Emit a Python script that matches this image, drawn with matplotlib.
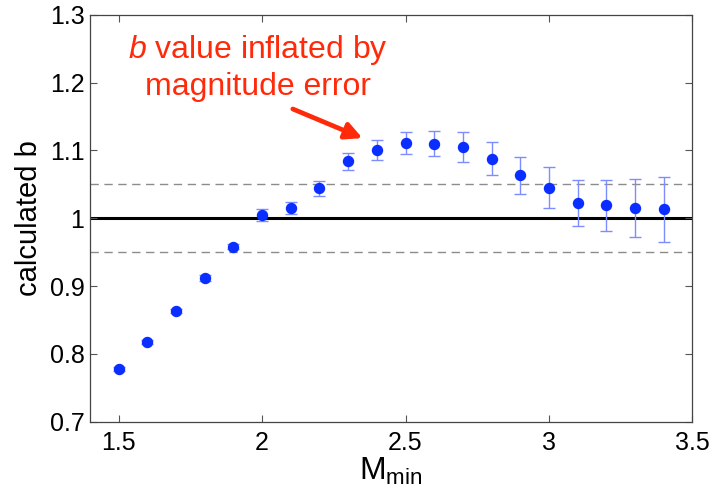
import numpy as np
import matplotlib
matplotlib.use('Agg')
import matplotlib.pyplot as plt

plt.rcParams['font.family'] = ['Liberation Sans', 'DejaVu Sans']
plt.rcParams['mathtext.fontset'] = 'custom'
plt.rcParams['mathtext.rm'] = 'Liberation Sans'
plt.rcParams['mathtext.it'] = 'Liberation Sans:italic'

# b estimate for each minimum magnitude cutoff
m_min = [1.5, 1.6, 1.7, 1.8, 1.9, 2.0, 2.1, 2.2, 2.3, 2.4, 2.5, 2.6,
         2.7, 2.8, 2.9, 3.0, 3.1, 3.2, 3.3, 3.4]
b_calc = [0.777, 0.817, 0.863, 0.912, 0.958, 1.005, 1.015, 1.044, 1.084,
          1.100, 1.111, 1.110, 1.105, 1.088, 1.063, 1.045, 1.023, 1.019,
          1.015, 1.013]
b_err = [0.003, 0.003, 0.003, 0.004, 0.004, 0.0085, 0.009, 0.011, 0.0125,
         0.0147, 0.0167, 0.019, 0.022, 0.0243, 0.0273, 0.030, 0.034,
         0.038, 0.0423, 0.0474]

b_true = 1.0
b_band = [0.95, 1.05]

fig = plt.figure(figsize=(7.15, 4.9), dpi=100)
ax = fig.add_axes([0.1259, 0.1394, 0.8424, 0.8306])

ax.axhline(b_true, color='black', lw=2.2, zorder=1)
for yb in b_band:
    ax.axhline(yb, color='#8c8c8c', lw=1.0, ls=(0, (6, 4)), zorder=1)

ax.errorbar(m_min, b_calc, yerr=b_err, fmt='none', ecolor='#7d8dff',
            elinewidth=1.0, capsize=4, capthick=1.0, zorder=2)
ax.plot(m_min, b_calc, 'o', color='#0a2eff', markersize=7.2, zorder=3)

ax.set_xlim(1.4, 3.5)
ax.set_ylim(0.7, 1.3)
ax.set_xticks([1.5, 2, 2.5, 3, 3.5])
ax.set_xticklabels(['1.5', '2', '2.5', '3', '3.5'])
ax.set_yticks([0.7, 0.8, 0.9, 1.0, 1.1, 1.2, 1.3])
ax.set_yticklabels(['0.7', '0.8', '0.9', '1', '1.1', '1.2', '1.3'])

ax.tick_params(direction='in', length=5, width=0.8, color='#555555',
               top=True, right=True, labelsize=18)
ax.tick_params(axis='x', pad=7)
ax.tick_params(axis='y', pad=4)
for side in ax.spines.values():
    side.set_color('#444444')
    side.set_linewidth(0.9)

ax.set_ylabel('calculated b', fontsize=21, labelpad=5)
ax.set_xlabel(r'M$_{\mathrm{min}}$', fontsize=23, labelpad=0)

ax.text(1.985, 1.172, r'$b$ value inflated by' + '\nmagnitude error',
        color='#ff2a0a', fontsize=23, ha='center', va='bottom',
        linespacing=1.2)
ax.annotate('', xy=(2.35, 1.118), xytext=(2.107, 1.161),
            arrowprops=dict(arrowstyle='-|>,head_length=1.0,head_width=0.5',
                            color='#ff2a0a', lw=3.4, shrinkA=0, shrinkB=0))

fig.savefig('out.png', dpi=100)
